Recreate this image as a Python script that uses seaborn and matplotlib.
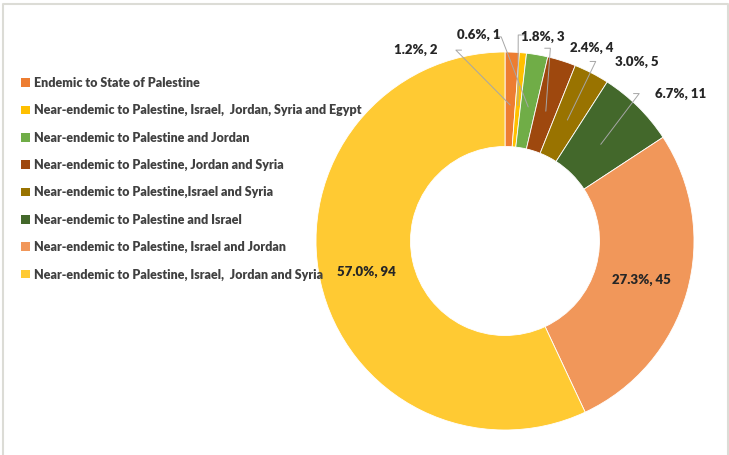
import matplotlib
matplotlib.use("Agg")
import matplotlib.pyplot as plt
import seaborn as sns
import numpy as np
from matplotlib.patches import Patch
from matplotlib.lines import Line2D

# data: endemic / near-endemic species groups
categories = [
    "Endemic to State of Palestine",
    "Near-endemic to Palestine, Israel,  Jordan, Syria and Egypt",
    "Near-endemic to Palestine and Jordan",
    "Near-endemic to Palestine, Jordan and Syria",
    "Near-endemic to Palestine,Israel and Syria",
    "Near-endemic to Palestine and Israel",
    "Near-endemic to Palestine, Israel and Jordan",
    "Near-endemic to Palestine, Israel,  Jordan and Syria",
]
counts = [2, 1, 3, 4, 5, 11, 45, 94]
colors = ["#ED7D31", "#FFC000", "#70AD47", "#9E480E",
          "#997300", "#43682B", "#F1975A", "#FFCA33"]

# label text positions (pie radius = 1), None -> label sits inside the slice
label_pos = [(-0.47, 1.01), (-0.14, 1.09), (0.20, 1.08), (0.46, 1.02),
             (0.70, 0.95), (0.93, 0.78), None, None]

sns.set_theme(style="white")
plt.rcParams['font.family'] = ['Lato', 'DejaVu Sans']

fig = plt.figure(figsize=(7.29, 4.55), dpi=100)
W, H = 729, 455
cx, cy, R = 505, 241, 189
ax = fig.add_axes([(cx - R) / W, (H - cy - R) / H, 2 * R / W, 2 * R / H])

wedges, _ = ax.pie(counts, colors=colors, startangle=90, counterclock=False,
                   radius=1, wedgeprops=dict(width=0.5, edgecolor="white", linewidth=0.6))
ax.set_xlim(-1, 1)
ax.set_ylim(-1, 1)
ax.set_aspect("equal")
ax.axis("off")

total = sum(counts)
for w, n, pos in zip(wedges, counts, label_pos):
    ang = np.deg2rad((w.theta1 + w.theta2) / 2)
    txt = f"{100 * n / total:.1f}%, {n}"
    if pos is None:
        r = 0.75
        ax.text(r * np.cos(ang), r * np.sin(ang), txt, ha="center", va="center",
                fontsize=9.5, fontweight="heavy", color="#262626")
        continue
    tx, ty = pos
    ax.text(tx, ty, txt, ha="center", va="center", fontsize=9.5,
            fontweight="heavy", color="#262626", clip_on=False)
    r = 0.72
    px, py = r * np.cos(ang), r * np.sin(ang)
    # leader: short horizontal stub then to the slice
    if tx < px:
        sx = tx + 0.21
    else:
        sx = tx - 0.22
    ax.add_line(Line2D([sx + (0.03 if tx < px else -0.03), sx, px],
                       [ty, ty, py], color="#a6a6a6", lw=0.7, clip_on=False))

handles = [Patch(facecolor=c, edgecolor="none") for c in colors]
leg = fig.legend(handles, categories, loc="upper left",
                 bbox_to_anchor=(21 / W, 1 - 77 / H), frameon=False,
                 borderpad=0, borderaxespad=0,
                 handlelength=0.7, handleheight=0.7, handletextpad=0.35,
                 labelspacing=1.22, prop=dict(weight="heavy", size=9.0))
for t in leg.get_texts():
    t.set_color("#404040")

# thin frame like the screenshot border
fig.add_artist(Line2D([3 / W, 3 / W, 728 / W, 728 / W], [0, 1 - 4 / H, 1 - 4 / H, 0],
                      transform=fig.transFigure, color="#dcdcd6", lw=1.5))

fig.savefig("out.png", dpi=100)
